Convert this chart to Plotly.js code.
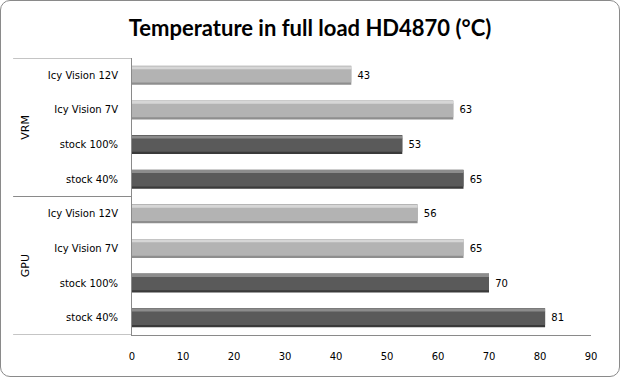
<!DOCTYPE html>
<html>
<head>
<meta charset="utf-8">
<script src="https://cdn.plot.ly/plotly-3.0.1.min.js"></script>
<style>
  html, body { margin: 0; padding: 0; background: #fff; }
  #wrap { position: relative; width: 620px; height: 377px; }
  #chart { width: 620px; height: 377px; }
  #frame { position: absolute; left: 0; top: 0; width: 620px; height: 377px; box-sizing: border-box;
           border: 1.3px solid #8a8a8a; border-radius: 10px; pointer-events: none; }
</style>
</head>
<body>
<div id="wrap"><div id="chart"></div><div id="frame"></div></div>
<script>
// Data (top to bottom as drawn)
const groups = ["VRM", "VRM", "VRM", "VRM", "GPU", "GPU", "GPU", "GPU"];
const labels = ["Icy Vision 12V", "Icy Vision 7V", "stock 100%", "stock 40%",
                "Icy Vision 12V", "Icy Vision 7V", "stock 100%", "stock 40%"];
const values = [43, 63, 53, 65, 56, 65, 70, 81];
const xTicks = [0, 10, 20, 30, 40, 50, 60, 70, 80, 90];

const pos = labels.map((_, i) => i);
const isIcy = labels.map(l => l.indexOf("Icy") === 0);
const edgeCol = isIcy.map(b => b ? "#8e8e8e" : "#3a3a3a");
const bodyCol = isIcy.map(b => b ? "#b3b3b3" : "#5a5a5a");
const hiCol   = isIcy.map(b => b ? "#d6d6d6" : "#8c8c8c");

const font = "DejaVu Sans, Verdana, sans-serif";

const traces = [
  { type: "bar", orientation: "h", x: values, y: pos, width: 0.55, offset: -0.275,
    marker: { color: edgeCol, line: { width: 0 } },
    text: values.map(v => " " + v), textposition: "outside", cliponaxis: false,
    textfont: { family: font, size: 10, color: "#000" }, hoverinfo: "x" },
  { type: "bar", orientation: "h", x: values, y: pos, width: 0.41, offset: -0.2,
    marker: { color: bodyCol, line: { width: 0 } }, hoverinfo: "skip" },
  { type: "bar", orientation: "h", x: values, y: pos, width: 0.085, offset: -0.262,
    marker: { color: hiCol, line: { width: 0 } }, hoverinfo: "skip" }
];

// group boundaries
const groupNames = [];
const groupStart = [];
const groupEnd = [];
groups.forEach((g, i) => {
  if (groupNames.length === 0 || groupNames[groupNames.length - 1] !== g) {
    groupNames.push(g); groupStart.push(i); groupEnd.push(i);
  } else { groupEnd[groupEnd.length - 1] = i; }
});

const shapes = [];
const annotations = [];
groupNames.forEach((g, k) => {
  const y0 = groupStart[k] - 0.5, y1 = groupEnd[k] + 0.5;
  shapes.push({ type: "line", xref: "paper", yref: "y", x0: -0.259, x1: 0, y0: y0, y1: y0,
                line: { color: "#8a8a8a", width: 1 } });
  if (k === groupNames.length - 1)
    shapes.push({ type: "line", xref: "paper", yref: "y", x0: -0.259, x1: 0, y0: y1, y1: y1,
                  line: { color: "#8a8a8a", width: 1 } });
  annotations.push({ xref: "paper", yref: "y", x: -0.232, y: (y0 + y1) / 2, text: g,
                     showarrow: false, textangle: -90, xanchor: "center", yanchor: "middle",
                     font: { family: font, size: 11, color: "#000" } });
});

const layout = {
  width: 620, height: 377,
  margin: { l: 132, r: 29, t: 58, b: 42, pad: 0 },
  paper_bgcolor: "#fff", plot_bgcolor: "#fff",
  barmode: "overlay", showlegend: false,
  title: { text: "<b>Temperature in full load HD4870 (°C)</b>", x: 0.5, xref: "container", xanchor: "center",
           y: 0.945, yref: "container", yanchor: "top",
           font: { family: "Lato, sans-serif", size: 22, color: "#000" } },
  xaxis: { range: [0, 90], tickvals: xTicks, ticktext: xTicks.map(String), showgrid: false, zeroline: false,
           showline: true, linecolor: "#8a8a8a", linewidth: 1, ticks: "", ticklabelstandoff: 12,
           tickfont: { family: font, size: 10, color: "#000" }, fixedrange: true },
  yaxis: { range: [7.5, -0.5], tickvals: pos, ticktext: labels, showgrid: false, zeroline: false,
           showline: true, linecolor: "#8a8a8a", linewidth: 1, ticks: "", ticklabelstandoff: 11,
           tickfont: { family: font, size: 10, color: "#000" }, fixedrange: true },
  shapes: shapes, annotations: annotations
};

Plotly.newPlot("chart", traces, layout, { displayModeBar: false, staticPlot: true });
</script>
</body>
</html>
